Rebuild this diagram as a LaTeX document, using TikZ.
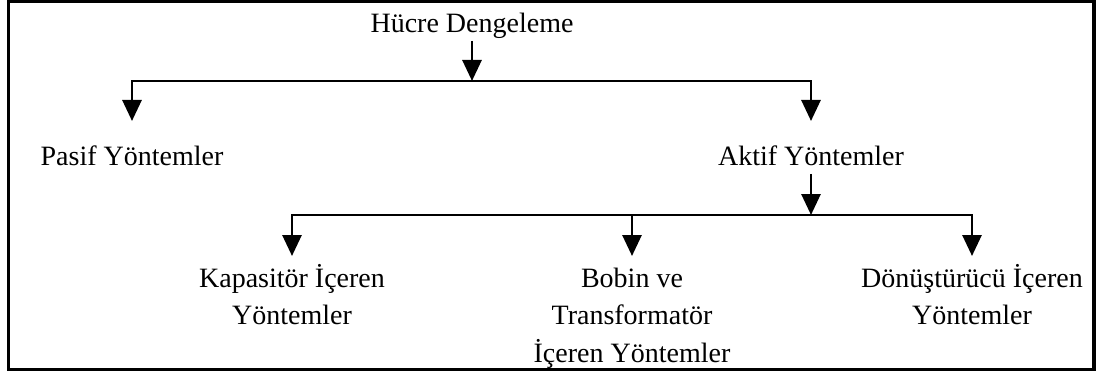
\documentclass[tikz,border=0pt]{standalone}
\usepackage{fontspec}
\setmainfont{Liberation Serif}
\usetikzlibrary{arrows.meta}

\tikzset{
  lbl/.style={font=\fontsize{14}{18.75}\selectfont, align=center,
    inner sep=0pt, text depth=4pt},
  branch/.style={lbl, text height=22pt},
  % multi-line boxes sit on their last line, so the height covers all lines
  leaf/.style={lbl, text height=#1},
  arr/.style={line width=1.4pt, -{Triangle[length=10.5pt,width=9.5pt]}},
}

\begin{document}
\begin{tikzpicture}[x=0.5pt, y=-0.5pt]
  \useasboundingbox (0,0) rectangle (1097,374);
  \draw[line width=1.6pt] (8.5,1.5) rectangle (1094,369.5);

  % top level
  \node[lbl, anchor=south] (root) at (472,41) {Hücre Dengeleme};
  \coordinate (hub1) at (472,81);

  % passive / active
  \node[branch, anchor=north] (pasif) at (132,121) {Pasif Yöntemler};
  \node[branch, anchor=north] (aktif) at (811,121) {Aktif Yöntemler};
  \coordinate (hub2) at (811,215);

  % active methods
  \node[leaf=34.25pt, anchor=north] (kap)   at (292,256) {Kapasitör İçeren\\Yöntemler};
  \node[leaf=53pt,    anchor=north] (bobin) at (632,256) {Bobin ve\\Transformatör\\İçeren Yöntemler};
  \node[leaf=34.25pt, anchor=north] (donus) at (972,256) {Dönüştürücü İçeren\\Yöntemler};

  \draw[arr] (root) -- (hub1);
  \draw[arr] (hub1) -| (pasif);
  \draw[arr] (hub1) -| (aktif);

  \draw[arr] (aktif) -- (hub2);
  \draw[arr] (hub2) -| (kap);
  \draw[arr] (hub2) -| (bobin);
  \draw[arr] (hub2) -| (donus);
\end{tikzpicture}
\end{document}
